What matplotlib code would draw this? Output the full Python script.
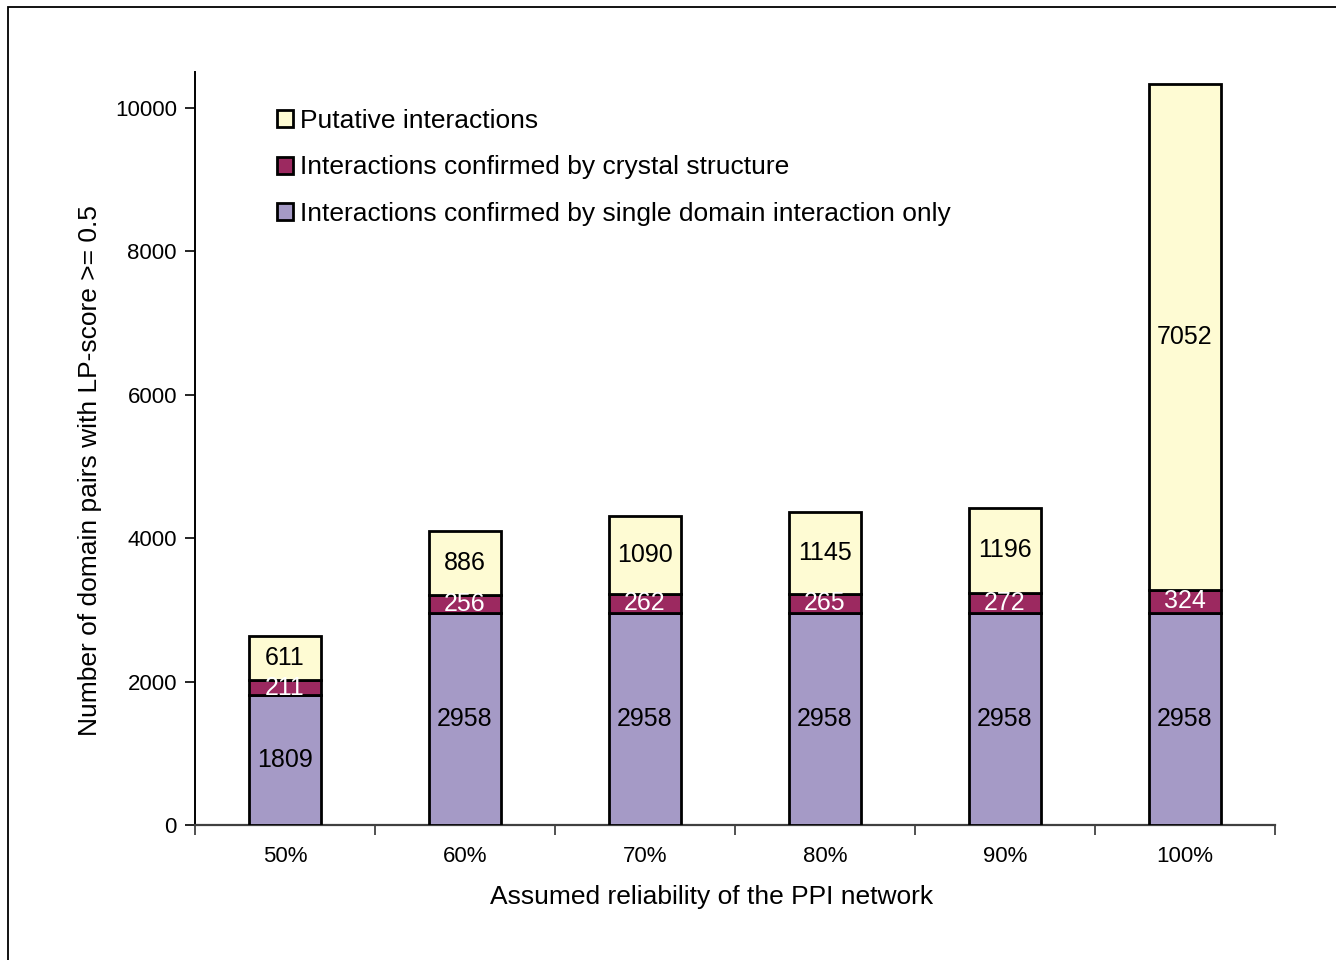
import matplotlib
matplotlib.use("Agg")
import matplotlib.pyplot as plt
from matplotlib.patches import Rectangle, Patch
import numpy as np

plt.rcParams['font.family'] = ['Liberation Sans', 'DejaVu Sans']

categories = ["50%", "60%", "70%", "80%", "90%", "100%"]
single_domain = [1809, 2958, 2958, 2958, 2958, 2958]
crystal = [211, 256, 262, 265, 272, 324]
putative = [611, 886, 1090, 1145, 1196, 7052]
yticks = [0, 2000, 4000, 6000, 8000, 10000]

labels = ["Putative interactions",
          "Interactions confirmed by crystal structure",
          "Interactions confirmed by single domain interaction only"]

c_put = "#FEFBD3"
c_cry = "#9C2960"
c_sgl = "#A59AC6"

fig = plt.figure(figsize=(13.36, 9.6), dpi=100)
ax = fig.add_axes([195/1336, 135/960, 1080/1336, 753/960])

x = np.arange(len(categories))
w = 0.4
s = np.array(single_domain)
c = np.array(crystal)
p = np.array(putative)
lw = 2.0
ax.bar(x, s, w, color=c_sgl, edgecolor="black", linewidth=lw, zorder=3)
ax.bar(x, c, w, bottom=s, color=c_cry, edgecolor="black", linewidth=lw, zorder=3)
ax.bar(x, p, w, bottom=s + c, color=c_put, edgecolor="black", linewidth=lw, zorder=3)

fs = 18
for i in range(len(x)):
    ax.text(x[i], s[i] / 2, str(s[i]), ha="center", va="center", fontsize=fs, color="black", zorder=4)
    ax.text(x[i], s[i] + c[i] / 2, str(c[i]), ha="center", va="center", fontsize=fs, color="white", zorder=4)
    ax.text(x[i], s[i] + c[i] + p[i] / 2, str(p[i]), ha="center", va="center", fontsize=fs, color="black", zorder=4)

ax.set_xlim(-0.5, len(categories) - 0.5)
ax.set_ylim(0, 10500)
ax.set_yticks(yticks)
ax.set_yticklabels([str(v) for v in yticks], fontsize=16)
ax.set_xticks(x)
ax.set_xticklabels(categories, fontsize=16)
ax.set_xticks(np.arange(-0.5, len(categories)), minor=True)
ax.tick_params(axis="x", which="major", length=0, pad=15)
ax.tick_params(axis="x", which="minor", length=7, width=1.2, direction="out", color="#333333")
ax.tick_params(axis="y", which="major", length=7, width=1.2, direction="out", pad=6)

for sp in ["top", "right"]:
    ax.spines[sp].set_visible(False)
ax.spines["left"].set_linewidth(1.4)
ax.spines["bottom"].set_linewidth(1.6)
ax.spines["bottom"].set_color("#404040")

handles = [Patch(facecolor=c_put, edgecolor="black", linewidth=lw),
           Patch(facecolor=c_cry, edgecolor="black", linewidth=lw),
           Patch(facecolor=c_sgl, edgecolor="black", linewidth=lw)]
leg = ax.legend(handles, labels, loc="upper left", bbox_to_anchor=(0.0657, 0.965),
                frameon=False, fontsize=19, handlelength=0.62, handleheight=0.62,
                handletextpad=0.28, labelspacing=0.85, borderaxespad=0)

fig.text(90/1336, 1 - 471/960, "Number of domain pairs with LP-score >= 0.5",
         rotation=90, ha="center", va="center", fontsize=19)
fig.text(712/1336, 1 - 897/960, "Assumed reliability of the PPI network",
         ha="center", va="center", fontsize=19)

border = Rectangle((8/1336, -0.1), 2, 1.1 - 7/960, transform=fig.transFigure,
                   fill=False, edgecolor="black", linewidth=1.3, clip_on=False)
fig.patches.append(border)

fig.savefig("out.png", dpi=100)
